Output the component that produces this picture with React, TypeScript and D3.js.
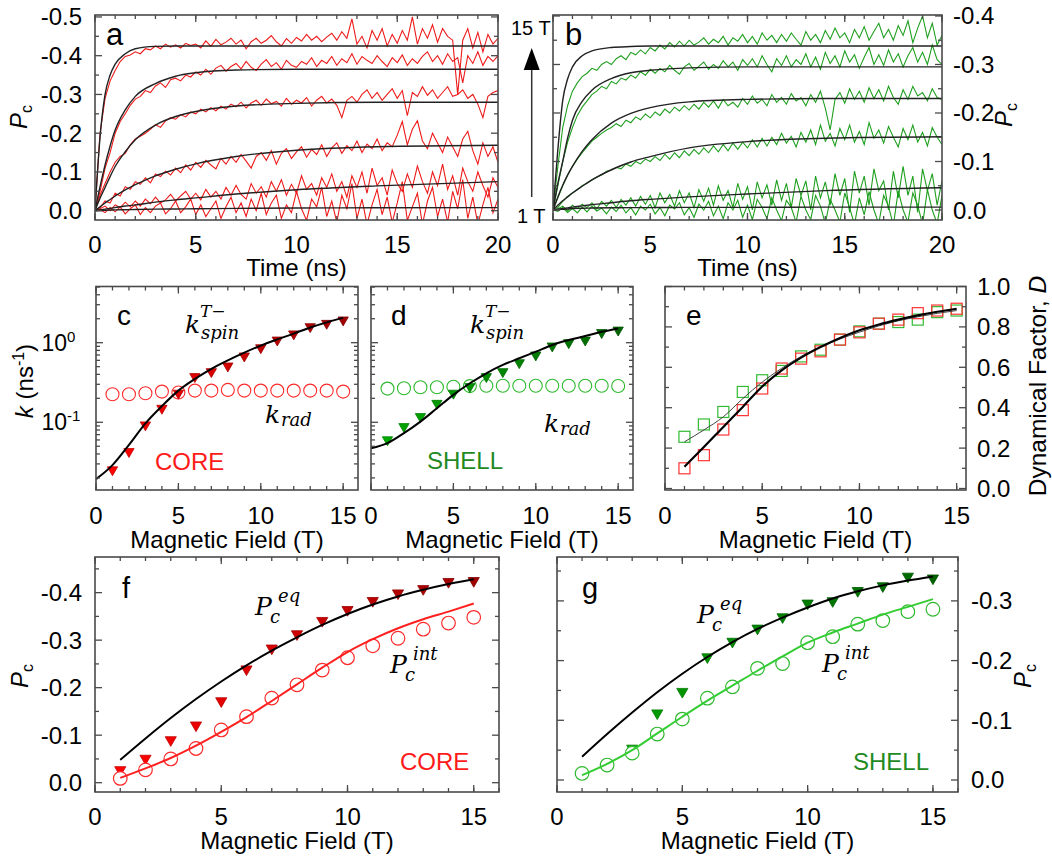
import React from "react";
import * as d3 from "d3";

// ---------------- Panels a / b : transients (values = -Pc x 1000, sampled every 0.25 ns) ----------------
const TRACE_DT = 0.25;
// CORE traces, bottom (1 T) to top (15 T)
const coreTrace1 = [0,
  3,-5,8,-3, 10,-8,5,15, -10,8,-5,12, 20,-8,5,25, -5,10,30,-10,
  15,-15,5,25, -20,10,35,-5, 20,-15,30,0, 45,-10,20,40, -20,15,-5,50,
  5,-25,30,10, 60,-15,25,-30, 40,5,70,-20, 30,-35,15,55, -10,35,-30,20,
  75,-25,10,45, -35,25,60,-15, 30,-30,50,5, 80,-20,35,-35, 15,60,-5,30];
const coreTrace2 = [0,
  5,12,0,15, 8,22,10,25, 12,30,18,35, 20,28,42,25, 38,50,30,45,
  28,55,35,50, 30,60,40,65, 42,30,70,45, 62,35,75,50, 80,40,68,45,
  90,55,70,40, 85,60,95,50, 75,35,90,60, 100,45,110,65, 85,40,105,70,
  50,95,60,115, 75,45,100,65, 120,55,90,40, 110,75,50,100, 65,35,85,60];
const coreTrace3 = [0,
  8,25,20,45, 38,62,55,75, 68,85,72,95, 88,102,92,110, 98,118,105,125,
  112,130,118,108, 135,120,140,125, 145,128,110,140, 150,130,155,120, 148,160,135,152,
  165,138,158,145, 170,140,162,175, 148,168,155,180, 150,172,160,185, 155,175,165,195,
  230,170,210,232, 180,160,200,175, 150,190,165,140, 185,205,155,120, 175,140,165,125];
const coreTrace4 = [0,
  40,70,100,125, 140,148,170,185, 192,200,210,222, 215,232,240,236, 248,242,255,250,
  262,255,266,258, 270,262,275,268, 280,265,278,285, 272,288,276,282, 270,290,275,285,
  278,292,270,285, 295,278,288,272, 240,285,295,280, 300,312,290,305, 285,300,315,290,
  310,245,305,295, 320,298,312,290, 305,320,295,300, 312,290,300,275, 240,295,305,310];
const coreTrace5 = [0,
  50,110,150,200, 230,250,272,288, 295,310,305,322, 330,318,338,342, 335,350,345,358,
  350,365,352,368, 375,360,372,380, 366,385,370,362, 378,390,372,382, 365,388,375,370,
  385,378,395,372, 388,380,398,375, 392,382,405,378, 398,388,380,400, 385,372,395,382,
  402,375,392,380, 398,410,385,400, 378,405,385,395, 330,400,380,410, 375,398,385,400];
const coreTrace6 = [0,
  200,290,335,362, 385,398,402,410, 405,418,415,425, 418,430,422,428, 420,432,426,430,
  420,438,424,442, 428,435,445,430, 440,418,436,445, 432,440,452,436, 425,444,432,447,
  438,455,440,450, 436,448,458,440, 462,445,495,430, 450,420,465,440, 470,425,455,432,
  465,440,500,430, 470,445,480,435, 470,450,440,300, 440,470,420,460, 410,455,430,445];
// SHELL traces, bottom (1 T) to top (15 T)
const shellTrace1 = [0,
  -3,5,-5,3, -6,6,-4,8, -2,4,-8,6, -3,10,-6,5, -10,8,0,12,
  -8,5,-12,10, 2,15,-10,5, -15,12,0,18, -12,8,-18,15, 0,20,-15,10,
  -20,22,5,-18, 25,0,-22,20, 5,-25,28,0, -20,30,8,-28, 22,0,-25,35,
  5,-30,25,-10, 38,0,-28,30, 8,-32,40,0, -25,35,10,-30, 42,0,-28,30];
const shellTrace2 = [0,
  2,8,-2,10, 3,12,5,15, 2,18,8,20, 5,22,10,25, 8,28,12,30,
  5,35,15,32, 8,40,15,35, 5,42,18,45, 10,50,20,40, 5,55,22,48,
  0,58,25,52, 10,62,20,55, 5,65,30,60, 0,70,25,58, 10,75,30,65,
  -5,80,35,70, 10,85,40,60, 0,80,25,90, 30,70,-5,85, 40,75,10,60];
const shellTrace3 = [0,
  5,18,28,35, 42,50,55,62, 68,72,80,82, 88,85,95,90, 100,95,105,100,
  110,102,115,105, 118,108,122,112, 125,115,128,118, 132,120,135,122, 138,125,140,128,
  145,130,148,132, 150,135,158,138, 152,130,160,140, 165,135,175,142, 158,132,168,145,
  175,140,162,135, 180,148,165,138, 172,150,130,168, 145,175,140,160, 132,170,150,135];
const shellTrace4 = [0,
  25,50,72,90, 105,118,130,142, 150,158,165,170, 178,172,185,180, 192,186,198,190,
  202,195,208,200, 212,204,215,206, 218,208,222,212, 225,210,228,215, 222,212,230,218,
  235,220,228,215, 238,222,232,218, 240,225,232,215, 238,222,245,210, 165,228,242,220,
  250,228,245,222, 252,230,248,225, 255,232,218,248, 228,255,235,242, 225,250,232,228];
const shellTrace5 = [0,
  50,100,140,170, 195,212,225,238, 245,255,250,265, 260,272,268,278, 272,285,278,290,
  282,292,285,298, 288,280,295,302, 288,296,305,290, 300,292,308,295, 305,288,310,298,
  312,295,318,300, 285,312,298,318, 295,310,300,322, 295,315,290,325, 302,318,295,328,
  305,320,292,315, 335,300,320,298, 330,305,322,295, 318,335,305,325, 300,340,310,300];
const shellTrace6 = [0,
  90,170,215,245, 262,275,282,292, 288,300,306,300, 312,318,310,325, 320,330,322,335,
  328,340,332,345, 336,348,338,350, 340,346,355,342, 352,345,358,340, 355,348,362,345,
  358,342,365,350, 360,345,362,348, 365,352,340,368, 350,362,345,370, 352,375,355,365,
  345,372,355,378, 350,368,385,355, 372,350,380,360, 390,345,375,400, 355,385,340,360];

// Fit curves (-Pc x 1000) sampled at FIT_T
const FIT_T = [0, 0.25, 0.5, 0.75, 1, 1.5, 2, 3, 4, 5, 7, 10, 14, 20];
const coreFit1 = [0, 0.5, 1, 1.5, 2, 2.5, 3, 4, 4.5, 5, 6, 7, 7.5, 8];
const coreFit2 = [0, 2, 4, 6, 8, 12, 15, 22, 28, 33, 43, 54, 64, 75];
const coreFit3 = [0, 10, 20, 29, 38, 54, 67, 90, 107, 121, 140, 156, 165, 169];
const coreFit4 = [0, 32, 60, 88, 114, 152, 183, 221, 243, 256, 270, 277, 280, 280];
const coreFit5 = [0, 62, 118, 167, 208, 260, 295, 328, 347, 356, 363, 365, 365, 365];
const coreFit6 = [0, 190, 300, 350, 378, 405, 418, 424, 425, 425, 425, 425, 425, 425];
const shellFit1 = [0, 1, 1.5, 2, 3, 3.5, 4, 4.5, 5, 5, 5.5, 5.5, 6, 6];
const shellFit2 = [0, 1.5, 3, 4.5, 6, 8.5, 11, 15, 19, 22, 27, 33, 40, 46];
const shellFit3 = [0, 10, 19, 27, 35, 49, 62, 83, 99, 110, 128, 141, 148, 151];
const shellFit4 = [0, 27, 51, 72, 90, 121, 145, 179, 199, 211, 223, 228, 230, 230];
const shellFit5 = [0, 55, 100, 148, 185, 224, 247, 271, 283, 288, 293, 295, 295, 295];
const shellFit6 = [0, 125, 226, 270, 295, 318, 328, 335, 337, 338, 338, 338, 338, 338];

const TIME_TICKS = [0, 5, 10, 15, 20];
const PC_TICKS_A = [0, 0.1, 0.2, 0.3, 0.4, 0.5];
const PC_TICKS_B = [0, 0.1, 0.2, 0.3, 0.4];

// ---------------- Panels c-g : field dependences ----------------
const FIELD = [1, 2, 3, 4, 5, 6, 7, 8, 9, 10, 11, 12, 13, 14, 15];
const FIELD_FIT = [0, 1, 2, 3, 4, 5, 6, 7, 8, 9, 10, 11, 12, 13, 14, 15];
const FIELD_TICKS = [0, 5, 10, 15];

const kSpinCore = [0.0253, 0.0429, 0.0927, 0.15, 0.232, 0.375, 0.433, 0.51, 0.681, 0.865, 1.08, 1.29, 1.59, 1.75, 1.93];
const kRadCore = [0.225, 0.225, 0.232, 0.243, 0.237, 0.25, 0.25, 0.255, 0.25, 0.25, 0.25, 0.25, 0.25, 0.25, 0.243];
const kSpinCoreFit = [0.0193, 0.029, 0.052, 0.097, 0.16, 0.25, 0.35, 0.47, 0.6, 0.75, 0.92, 1.1, 1.3, 1.55, 1.8, 2.05];
const kSpinShell = [0.0604, 0.0883, 0.118, 0.173, 0.232, 0.281, 0.375, 0.433, 0.561, 0.701, 0.909, 1.0, 1.08, 1.34, 1.44];
const kRadShell = [0.265, 0.268, 0.275, 0.275, 0.28, 0.285, 0.288, 0.288, 0.288, 0.288, 0.288, 0.288, 0.288, 0.288, 0.286];
const kSpinShellFit = [0.047, 0.0547, 0.073, 0.102, 0.15, 0.221, 0.309, 0.413, 0.525, 0.637, 0.771, 0.935, 1.08, 1.21, 1.37, 1.51];

const dCore = [0.1, 0.165, 0.292, 0.388, 0.495, 0.594, 0.643, 0.679, 0.737, 0.773, 0.816, 0.836, 0.868, 0.881, 0.89];
const dShell = [0.256, 0.317, 0.379, 0.478, 0.536, 0.582, 0.654, 0.687, 0.737, 0.778, 0.816, 0.824, 0.836, 0.873, 0.881];
const dCoreFit = [0.108, 0.205, 0.305, 0.404, 0.505, 0.585, 0.648, 0.7, 0.745, 0.783, 0.812, 0.836, 0.857, 0.875, 0.89];
const dShellFit = [0.231, 0.29, 0.355, 0.445, 0.527, 0.595, 0.654, 0.7, 0.74, 0.774, 0.805, 0.83, 0.85, 0.867, 0.881];
const D_TICKS = [0, 0.2, 0.4, 0.6, 0.8, 1.0];

// -Pc values
const peqCore = [0.027, 0.051, 0.09, 0.121, 0.172, 0.239, 0.283, 0.313, 0.341, 0.364, 0.383, 0.399, 0.408, 0.423, 0.425];
const pintCore = [0.009, 0.027, 0.05, 0.072, 0.111, 0.139, 0.178, 0.206, 0.237, 0.263, 0.288, 0.304, 0.323, 0.336, 0.348];
const peqCoreFit = [0.048, 0.093, 0.136, 0.176, 0.213, 0.247, 0.278, 0.306, 0.332, 0.355, 0.375, 0.392, 0.406, 0.418, 0.428];
const pintCoreFit = [0.01, 0.03, 0.052, 0.078, 0.107, 0.138, 0.172, 0.207, 0.242, 0.275, 0.302, 0.325, 0.344, 0.36, 0.377];
const FIELD_EQ_SHELL = [3, 4, 5, 6, 7, 8, 9, 10, 11, 12, 13, 14, 15];
const peqShell = [0.053, 0.112, 0.148, 0.206, 0.232, 0.254, 0.273, 0.296, 0.3, 0.317, 0.325, 0.341, 0.338];
const pintShell = [0.011, 0.025, 0.045, 0.077, 0.102, 0.137, 0.156, 0.187, 0.195, 0.23, 0.24, 0.261, 0.267, 0.282, 0.286];
const peqShellFit = [0.039, 0.077, 0.113, 0.147, 0.178, 0.206, 0.231, 0.253, 0.272, 0.289, 0.304, 0.316, 0.326, 0.334, 0.341];
const pintShellFit = [0.008, 0.027, 0.05, 0.078, 0.106, 0.133, 0.158, 0.183, 0.207, 0.23, 0.247, 0.262, 0.277, 0.29, 0.303];
const PC_TICKS_F = [0, 0.1, 0.2, 0.3, 0.4];
const PC_TICKS_G = [0, 0.1, 0.2, 0.3];

// ---------------- styling ----------------
const SANS = "'Liberation Sans', Arial, Helvetica, sans-serif";
const SERIF = "'DejaVu Serif', 'Liberation Serif', serif";
const FS = 24;
const RED_TRACE = "#ee1a1a";
const GREEN_TRACE = "#1f9f1f";
const RED_OPEN = "#ff2a2a";
const GREEN_OPEN = "#2db82d";
const SHELL_TXT = "#1f8a1f";
const redTri = d3.interpolateRgb("#ff0000", "#a00000");
const greenTri = d3.interpolateRgb("#00a800", "#006400");

type Box = { x0: number; y0: number; x1: number; y1: number };

function range(a: number, b: number, step: number) {
  const out: number[] = [];
  for (let v = a; v <= b + 1e-9; v += step) out.push(+v.toFixed(6));
  return out;
}

function Axes({ b, xs, ys, xMaj, xMin, yMaj, yMin }: any) {
  const segs: number[][] = [];
  const M = 7, m = 4;
  const inX = (v: number) => { const p = xs(v); return p >= b.x0 - 0.5 && p <= b.x1 + 0.5; };
  const inY = (v: number) => { const p = ys(v); return p >= b.y0 - 0.5 && p <= b.y1 + 0.5; };
  xMaj.filter(inX).forEach((v: number) => { const p = xs(v); segs.push([p, b.y1, p, b.y1 - M], [p, b.y0, p, b.y0 + M]); });
  xMin.filter(inX).forEach((v: number) => { const p = xs(v); segs.push([p, b.y1, p, b.y1 - m], [p, b.y0, p, b.y0 + m]); });
  yMaj.filter(inY).forEach((v: number) => { const p = ys(v); segs.push([b.x0, p, b.x0 + M, p], [b.x1, p, b.x1 - M, p]); });
  yMin.filter(inY).forEach((v: number) => { const p = ys(v); segs.push([b.x0, p, b.x0 + m, p], [b.x1, p, b.x1 - m, p]); });
  return (
    <g stroke="#4a4a4a" strokeWidth={1.3} fill="none">
      {segs.map((s, i) => <line key={i} x1={s[0]} y1={s[1]} x2={s[2]} y2={s[3]} />)}
      <rect x={b.x0} y={b.y0} width={b.x1 - b.x0} height={b.y1 - b.y0} strokeWidth={1.6} />
    </g>
  );
}

function XLabels({ xs, ticks, y }: any) {
  return <g fontFamily={SANS} fontSize={FS} textAnchor="middle" fill="#000">
    {ticks.map((v: number) => <text key={v} x={xs(v)} y={y}>{v}</text>)}
  </g>;
}

function YLabels({ ys, ticks, x, anchor, neg }: any) {
  return <g fontFamily={SANS} fontSize={FS} textAnchor={anchor} fill="#000">
    {ticks.map((v: number) => <text key={v} x={x} y={ys(v) + 8.5}>{neg && v !== 0 ? "-" + v.toFixed(1) : v.toFixed(1)}</text>)}
  </g>;
}

function PcLabel({ x, y }: any) {
  return <text transform={`translate(${x},${y}) rotate(-90)`} textAnchor="middle" fontFamily={SANS} fontSize={FS}>
    <tspan fontStyle="italic">P</tspan><tspan fontSize={16} dy={5}>c</tspan>
  </text>;
}

function Title({ x, y, text }: any) {
  return <text x={x} y={y} textAnchor="middle" fontFamily={SANS} fontSize={FS}>{text}</text>;
}

function KLabel({ x, y, sup, sub }: any) {
  return <g fontFamily={SERIF} fontStyle="italic" fill="#000">
    <text x={x} y={y} fontSize={25}>k</text>
    {sup && <text x={x + 15} y={y - 16} fontSize={17}>{sup}</text>}
    <text x={x + 16} y={y + (sup ? 6 : 3)} fontSize={18}>{sub}</text>
  </g>;
}

function PLabel({ x, y, sup }: any) {
  return <g fontFamily={SERIF} fontStyle="italic" fill="#000">
    <text x={x} y={y} fontSize={25}>P</text>
    <text x={x + 15} y={y + 8} fontSize={18}>c</text>
    <text x={x + 23} y={y - 13} fontSize={18}>{sup}</text>
  </g>;
}

function triPath(size: number) {
  return d3.symbol().type(d3.symbolTriangle).size(size)() as string;
}

export default function App() {
  // ----- panel a -----
  const bA: Box = { x0: 95, y0: 15, x1: 498, y1: 220 };
  const xA = d3.scaleLinear().domain([0, 20]).range([bA.x0, bA.x1]);
  const yA = d3.scaleLinear().domain([-0.024, 0.505]).range([bA.y1, bA.y0]);
  // ----- panel b -----
  const bB: Box = { x0: 553, y0: 15, x1: 942, y1: 220 };
  const xB = d3.scaleLinear().domain([0, 20]).range([bB.x0, bB.x1]);
  const yB = d3.scaleLinear().domain([-0.0206, 0.402]).range([bB.y1, bB.y0]);
  // ----- panel c, d -----
  const bC: Box = { x0: 96, y0: 286.5, x1: 358, y1: 490 };
  const bD: Box = { x0: 371, y0: 286.5, x1: 633, y1: 490 };
  const xC = d3.scaleLinear().domain([0, 15.9]).range([bC.x0, bC.x1]);
  const xD = d3.scaleLinear().domain([0, 15.9]).range([bD.x0, bD.x1]);
  const yC = d3.scaleLog().domain([0.0141, 5.08]).range([bC.y1, bC.y0]);
  const yD = yC;
  // ----- panel e -----
  const bE: Box = { x0: 665, y0: 286.5, x1: 966, y1: 490 };
  const xE = d3.scaleLinear().domain([0, 15.48]).range([bE.x0, bE.x1]);
  const yE = d3.scaleLinear().domain([-0.0074, 1.0]).range([bE.y1, bE.y0]);
  // ----- panel f, g -----
  const bF: Box = { x0: 95, y0: 557, x1: 499, y1: 792 };
  const xF = d3.scaleLinear().domain([0, 16]).range([bF.x0, bF.x1]);
  const yF = d3.scaleLinear().domain([-0.0196, 0.475]).range([bF.y1, bF.y0]);
  const bG: Box = { x0: 557, y0: 557, x1: 958, y1: 792 };
  const xG = d3.scaleLinear().domain([0, 16]).range([bG.x0, bG.x1]);
  const yG = d3.scaleLinear().domain([-0.0201, 0.3735]).range([bG.y1, bG.y0]);

  const traceLine = (xs: any, ys: any) => d3.line<number>().x((_, i) => xs(i * TRACE_DT)).y((v) => ys(v / 1000));
  const fitLine = (xs: any, ys: any) => d3.line<number>().x((_, i) => xs(FIT_T[i])).y((v) => ys(v / 1000)).curve(d3.curveMonotoneX);
  const fieldLine = (xs: any, ys: any, fx: number[]) => d3.line<number>().x((_, i) => xs(fx[i])).y((v) => ys(v)).curve(d3.curveMonotoneX);

  const coreTraces = [coreTrace1, coreTrace2, coreTrace3, coreTrace4, coreTrace5, coreTrace6];
  const shellTraces = [shellTrace1, shellTrace2, shellTrace3, shellTrace4, shellTrace5, shellTrace6];
  const coreFits = [coreFit1, coreFit2, coreFit3, coreFit4, coreFit5, coreFit6];
  const shellFits = [shellFit1, shellFit2, shellFit3, shellFit4, shellFit5, shellFit6];

  const tri10 = triPath(46);
  const tri11 = triPath(54);

  const logMaj = [0.1, 1];
  const logMin: number[] = [];
  [0.01, 0.1, 1].forEach((e) => { for (let k = 2; k <= 9; k++) logMin.push(+(k * e).toFixed(4)); });

  const frac = (f: number) => (f - 1) / 14;

  return (
    <svg width={1052} height={859} style={{ position: "absolute", left: 0, top: 0, background: "#fff" }} fontFamily={SANS}>
      <defs>
        <clipPath id="clipA"><rect x={bA.x0} y={bA.y0} width={bA.x1 - bA.x0} height={bA.y1 - bA.y0} /></clipPath>
        <clipPath id="clipB"><rect x={bB.x0} y={bB.y0} width={bB.x1 - bB.x0} height={bB.y1 - bB.y0} /></clipPath>
      </defs>
      <rect x={0} y={0} width={1052} height={859} fill="#fff" />

      {/* ---------------- panel a ---------------- */}
      <g clipPath="url(#clipA)">
        {coreTraces.map((tr, i) => <path key={i} d={traceLine(xA, yA)(tr) as string} fill="none" stroke={RED_TRACE} strokeWidth={1.1} />)}
        {coreFits.map((f, i) => <path key={i} d={fitLine(xA, yA)(f) as string} fill="none" stroke="#222" strokeWidth={1.4} />)}
      </g>
      <Axes b={bA} xs={xA} ys={yA} xMaj={TIME_TICKS} xMin={range(0, 20, 1)} yMaj={PC_TICKS_A} yMin={range(0.05, 0.45, 0.1)} />
      <YLabels ys={yA} ticks={PC_TICKS_A} x={82} anchor="end" neg />
      <XLabels xs={xA} ticks={TIME_TICKS} y={253} />
      <Title x={(bA.x0 + bA.x1) / 2} y={276} text="Time (ns)" />
      <PcLabel x={27} y={117} />
      <text x={106} y={45} fontSize={31} fontFamily={SANS}>a</text>

      {/* field arrow */}
      <text x={511} y={35} fontSize={20} fontFamily={SANS}>15 T</text>
      <text x={517} y={223} fontSize={20} fontFamily={SANS}>1 T</text>
      <line x1={531.7} y1={197} x2={531.7} y2={66} stroke="#333" strokeWidth={1.5} />
      <path d="M531.7,48 L523.7,70 L539.7,70 Z" fill="#000" />

      {/* ---------------- panel b ---------------- */}
      <g clipPath="url(#clipB)">
        {shellTraces.map((tr, i) => <path key={i} d={traceLine(xB, yB)(tr) as string} fill="none" stroke={GREEN_TRACE} strokeWidth={1.1} />)}
        {shellFits.map((f, i) => <path key={i} d={fitLine(xB, yB)(f) as string} fill="none" stroke="#222" strokeWidth={1.4} />)}
      </g>
      <Axes b={bB} xs={xB} ys={yB} xMaj={TIME_TICKS} xMin={range(0, 20, 1)} yMaj={PC_TICKS_B} yMin={range(0.05, 0.35, 0.1)} />
      <YLabels ys={yB} ticks={PC_TICKS_B} x={953} anchor="start" neg />
      <XLabels xs={xB} ticks={TIME_TICKS} y={253} />
      <Title x={(bB.x0 + bB.x1) / 2} y={276} text="Time (ns)" />
      <PcLabel x={1012} y={115} />
      <text x={565} y={45} fontSize={31} fontFamily={SANS}>b</text>

      {/* ---------------- panel c ---------------- */}
      {FIELD.map((f, i) => <circle key={"cr" + i} cx={xC(f)} cy={yC(kRadCore[i])} r={6.5} fill="none" stroke={RED_OPEN} strokeWidth={1.1} />)}
      {FIELD.map((f, i) => {
        const c = redTri(frac(f));
        return <path key={"ct" + i} d={tri10} transform={`translate(${xC(f)},${yC(kSpinCore[i])}) rotate(180)`} fill={c} stroke={d3.color(c)!.darker(0.6).toString()} strokeWidth={0.8} />;
      })}
      <path d={fieldLine(xC, yC, FIELD_FIT)(kSpinCoreFit) as string} fill="none" stroke="#000" strokeWidth={2} />
      <Axes b={bC} xs={xC} ys={yC} xMaj={FIELD_TICKS} xMin={range(0, 15, 1)} yMaj={logMaj} yMin={logMin} />
      <XLabels xs={xC} ticks={FIELD_TICKS} y={524} />
      <Title x={(bC.x0 + bC.x1) / 2} y={548} text="Magnetic Field (T)" />
      <g fontFamily={SANS} fill="#000">
        <text x={67} y={yC(1) + 8} textAnchor="end" fontSize={23}>10</text>
        <text x={67} y={yC(1) - 1} fontSize={15}>0</text>
        <text x={67} y={yC(0.1) + 8} textAnchor="end" fontSize={23}>10</text>
        <text x={67} y={yC(0.1) - 1} fontSize={15}>-1</text>
      </g>
      <text transform="translate(33,381) rotate(-90)" textAnchor="middle" fontFamily={SANS} fontSize={FS}>
        <tspan fontStyle="italic">k</tspan><tspan> (ns</tspan><tspan fontSize={16} dy={-9}>-1</tspan><tspan dy={9}>)</tspan>
      </text>
      <text x={117} y={325} fontSize={28} fontFamily={SANS}>c</text>
      <KLabel x={185} y={333} sup="T−" sub="spin" />
      <KLabel x={265} y={423} sub="rad" />
      <text x={155} y={470} fontSize={FS} fontFamily={SANS} fill="#ff1a1a">CORE</text>

      {/* ---------------- panel d ---------------- */}
      {FIELD.map((f, i) => <circle key={"dr" + i} cx={xD(f)} cy={yD(kRadShell[i])} r={6.5} fill="none" stroke={GREEN_OPEN} strokeWidth={1.1} />)}
      {FIELD.map((f, i) => {
        const c = greenTri(frac(f));
        return <path key={"dt" + i} d={tri10} transform={`translate(${xD(f)},${yD(kSpinShell[i])}) rotate(180)`} fill={c} stroke={d3.color(c)!.darker(0.6).toString()} strokeWidth={0.8} />;
      })}
      <path d={fieldLine(xD, yD, FIELD_FIT)(kSpinShellFit) as string} fill="none" stroke="#000" strokeWidth={2} />
      <Axes b={bD} xs={xD} ys={yD} xMaj={FIELD_TICKS} xMin={range(0, 15, 1)} yMaj={logMaj} yMin={logMin} />
      <XLabels xs={xD} ticks={FIELD_TICKS} y={524} />
      <Title x={(bD.x0 + bD.x1) / 2} y={548} text="Magnetic Field (T)" />
      <text x={391} y={325} fontSize={28} fontFamily={SANS}>d</text>
      <KLabel x={470} y={333} sup="T−" sub="spin" />
      <KLabel x={544} y={432} sub="rad" />
      <text x={427} y={469} fontSize={FS} fontFamily={SANS} fill={SHELL_TXT}>SHELL</text>

      {/* ---------------- panel e ---------------- */}
      {FIELD.map((f, i) => <rect key={"eg" + i} x={xE(f) - 5.5} y={yE(dShell[i]) - 5.5} width={11} height={11} fill="none" stroke="#33bb33" strokeWidth={1.2} />)}
      {FIELD.map((f, i) => <rect key={"er" + i} x={xE(f) - 5.5} y={yE(dCore[i]) - 5.5} width={11} height={11} fill="none" stroke="#ff3333" strokeWidth={1.2} />)}
      <path d={fieldLine(xE, yE, FIELD)(dShellFit) as string} fill="none" stroke="#444" strokeWidth={1} />
      <path d={fieldLine(xE, yE, FIELD)(dCoreFit) as string} fill="none" stroke="#000" strokeWidth={2.2} />
      <Axes b={bE} xs={xE} ys={yE} xMaj={FIELD_TICKS} xMin={range(0, 15, 1)} yMaj={D_TICKS} yMin={range(0.1, 0.9, 0.2)} />
      <XLabels xs={xE} ticks={FIELD_TICKS} y={524} />
      <Title x={(bE.x0 + bE.x1) / 2} y={548} text="Magnetic Field (T)" />
      <YLabels ys={yE} ticks={D_TICKS} x={977} anchor="start" />
      <text transform="translate(1046,386) rotate(-90)" textAnchor="middle" fontFamily={SANS} fontSize={24.5}>
        Dynamical Factor, <tspan fontStyle="italic">D</tspan>
      </text>
      <text x={686} y={325} fontSize={28} fontFamily={SANS}>e</text>

      {/* ---------------- panel f ---------------- */}
      {FIELD.map((f, i) => {
        const c = redTri(frac(f));
        return <path key={"ft" + i} d={tri11} transform={`translate(${xF(f)},${yF(peqCore[i])}) rotate(180)`} fill={c} stroke={d3.color(c)!.darker(0.6).toString()} strokeWidth={0.8} />;
      })}
      {FIELD.map((f, i) => <circle key={"fc" + i} cx={xF(f)} cy={yF(pintCore[i])} r={6.8} fill="#fff" stroke={RED_OPEN} strokeWidth={1.2} />)}
      <path d={fieldLine(xF, yF, FIELD)(peqCoreFit) as string} fill="none" stroke="#000" strokeWidth={2} />
      <path d={fieldLine(xF, yF, FIELD)(pintCoreFit) as string} fill="none" stroke="#ff2020" strokeWidth={2} />
      <Axes b={bF} xs={xF} ys={yF} xMaj={FIELD_TICKS} xMin={range(0, 16, 1)} yMaj={PC_TICKS_F} yMin={range(0.05, 0.45, 0.1)} />
      <XLabels xs={xF} ticks={FIELD_TICKS} y={825} />
      <Title x={(bF.x0 + bF.x1) / 2} y={849} text="Magnetic Field (T)" />
      <YLabels ys={yF} ticks={PC_TICKS_F} x={82} anchor="end" neg />
      <PcLabel x={28} y={676} />
      <text x={122} y={598} fontSize={29} fontFamily={SANS}>f</text>
      <PLabel x={255} y={615} sup="eq" />
      <PLabel x={390} y={673} sup="int" />
      <text x={400} y={770} fontSize={FS} fontFamily={SANS} fill="#ff1a1a">CORE</text>

      {/* ---------------- panel g ---------------- */}
      {FIELD_EQ_SHELL.map((f, i) => {
        const c = greenTri(frac(f));
        return <path key={"gt" + i} d={tri11} transform={`translate(${xG(f)},${yG(peqShell[i])}) rotate(180)`} fill={c} stroke={d3.color(c)!.darker(0.6).toString()} strokeWidth={0.8} />;
      })}
      {FIELD.map((f, i) => <circle key={"gc" + i} cx={xG(f)} cy={yG(pintShell[i])} r={6.8} fill="#fff" stroke={GREEN_OPEN} strokeWidth={1.2} />)}
      <path d={fieldLine(xG, yG, FIELD)(peqShellFit) as string} fill="none" stroke="#000" strokeWidth={2} />
      <path d={fieldLine(xG, yG, FIELD)(pintShellFit) as string} fill="none" stroke="#33cc33" strokeWidth={2} />
      <Axes b={bG} xs={xG} ys={yG} xMaj={FIELD_TICKS} xMin={range(0, 16, 1)} yMaj={PC_TICKS_G} yMin={range(0.05, 0.35, 0.1)} />
      <XLabels xs={xG} ticks={FIELD_TICKS} y={825} />
      <Title x={(bG.x0 + bG.x1) / 2} y={849} text="Magnetic Field (T)" />
      <YLabels ys={yG} ticks={PC_TICKS_G} x={971} anchor="start" neg />
      <PcLabel x={1031} y={676} />
      <text x={582} y={598} fontSize={29} fontFamily={SANS}>g</text>
      <PLabel x={697} y={623} sup="eq" />
      <PLabel x={822} y={672} sup="int" />
      <text x={853} y={770} fontSize={FS} fontFamily={SANS} fill={SHELL_TXT}>SHELL</text>
    </svg>
  );
}
